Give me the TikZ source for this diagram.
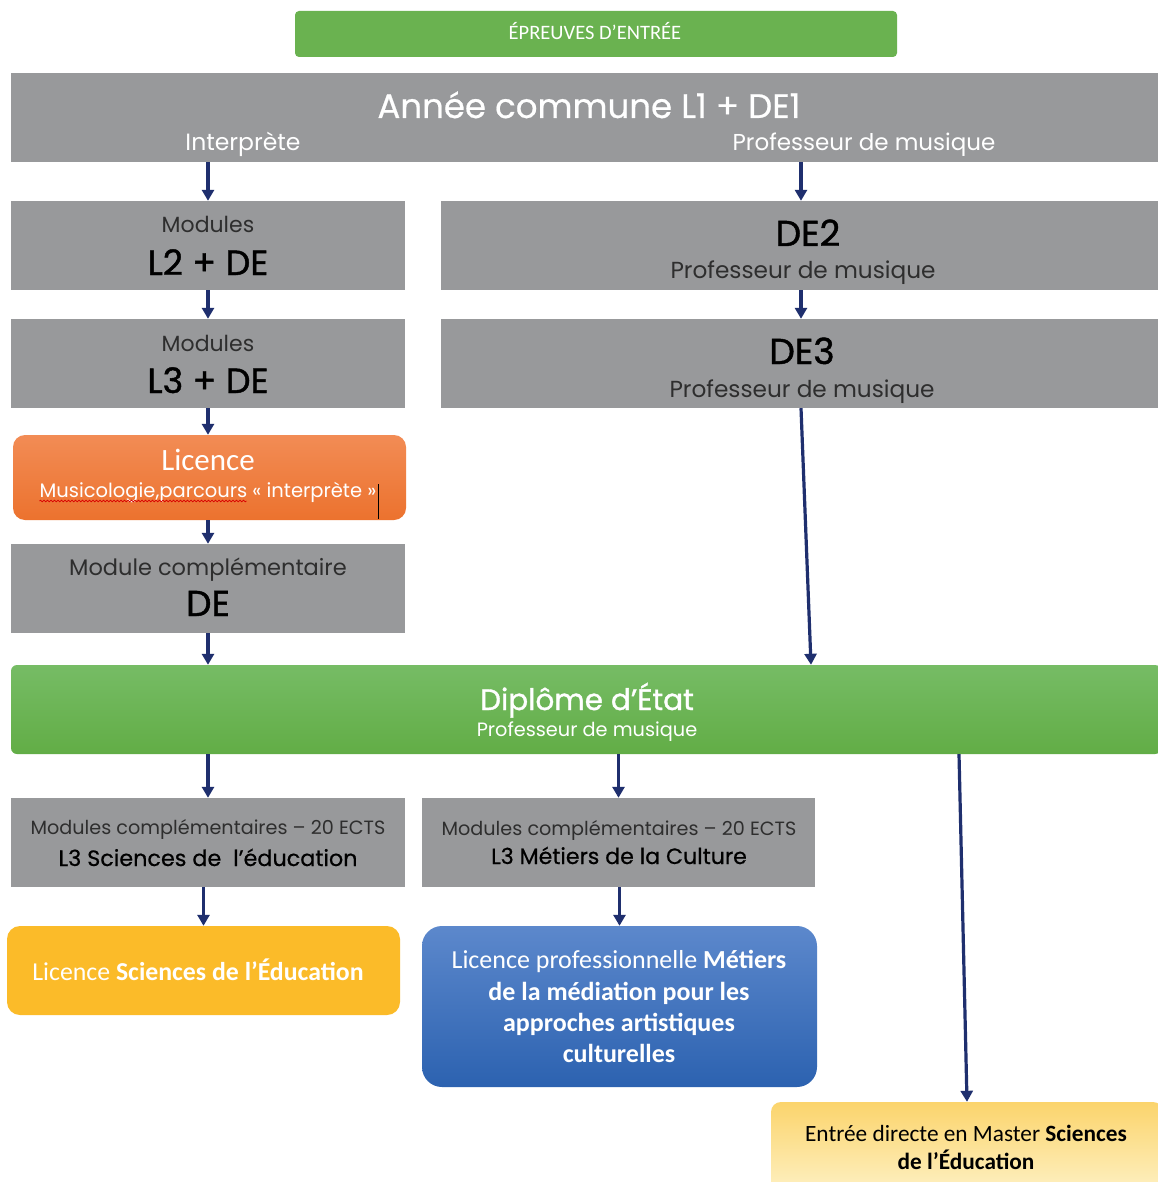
\documentclass[tikz,border=0pt]{standalone}
\usepackage{fontspec}
\setmainfont{Poppins}
\newfontfamily\calib{Carlito}
\newfontfamily\popmed[FakeBold=1.2]{Poppins}
\newfontfamily\popsemi[FakeBold=0.6]{Poppins}
\usetikzlibrary{arrows.meta,decorations.pathmorphing,calc}
\definecolor{greentop}{HTML}{6AB250}
\definecolor{greyc}{HTML}{98999B}
\definecolor{navy}{HTML}{1F2F6E}
\definecolor{orangeT}{HTML}{F28C55}
\definecolor{orangeB}{HTML}{EC722E}
\definecolor{dipT}{HTML}{76BC65}
\definecolor{dipB}{HTML}{62AD46}
\definecolor{yellowc}{HTML}{FBBB29}
\definecolor{blueT}{HTML}{5C88CC}
\definecolor{blueB}{HTML}{2C62B0}
\definecolor{paleT}{HTML}{FBD46C}
\definecolor{paleB}{HTML}{FEF1C4}
\definecolor{darkt}{HTML}{2E2E2E}
\newcommand{\fs}[1]{\fontsize{#1pt}{#1pt}\selectfont}
\begin{document}
\begin{tikzpicture}[x=1pt,y=-1pt,
  box/.style={draw=none,inner sep=0pt,minimum width=#1},
  greybox/.style={box=#1,fill=greyc,minimum height=89pt},
  txt/.style={anchor=base,inner sep=0pt},
  arr/.style={draw=navy,line width=3.2pt,-{Triangle[width=12pt,length=11pt]}},
  ]
\useasboundingbox (0,0) rectangle (1157,1182);
\fill[white] (0,0) rectangle (1157,1182);

% boxes
\node[box=602pt,fill=greentop,minimum height=46pt,rounded corners=4pt] (epr) at (596,34) {};
\node[greybox=1150pt] (top) at (586,117.5) {};
\node[greybox=394pt] (l2) at (208,245.5) {};
\node[greybox=720pt] (de2) at (801,245.5) {};
\node[greybox=394pt] (l3) at (208,363.5) {};
\node[greybox=720pt] (de3) at (801,363.5) {};
\node[box=393pt,minimum height=85pt,rounded corners=12pt,top color=orangeT,bottom color=orangeB] (lic) at (209.5,477.5) {};
\node[greybox=394pt] (mc) at (208,588.5) {};
\node[box=1150pt,minimum height=89pt,rounded corners=6pt,top color=dipT,bottom color=dipB] (dip) at (586,709.5) {};
\node[greybox=394pt] (l3s) at (208,842.5) {};
\node[greybox=393pt] (l3m) at (618.5,842.5) {};
\node[box=393pt,minimum height=89pt,rounded corners=13pt,fill=yellowc] (lse) at (203.5,970.5) {};
\node[box=395pt,minimum height=161pt,rounded corners=20pt,top color=blueT,bottom color=blueB] (lpro) at (619.5,1006.5) {};
\node[box=392pt,minimum height=92pt,rounded corners=10pt,top color=paleT,bottom color=paleB] (mast) at (967,1148) {};

% texts
\node[txt,text=white,font=\calib\fs{20.5}] (eprT) at (595,40) {ÉPREUVES D’ENTRÉE};
\node[txt,text=white,font=\popsemi\fs{34}] (topT) at (589,118) {Année commune L1 + DE1};
\node[txt,text=white,font=\fs{23.5}] (topI) at (243,151) {Interprète};
\node[txt,text=white,font=\fs{23}] (topP) at (864,151) {Professeur de musique};

\node[txt,text=darkt,font=\fs{22}] (l2a) at (208,233) {Modules};
\node[txt,text=black,font=\popmed\fs{35}] (l2b) at (208,275) {L2 + DE};
\node[txt,text=black,font=\popmed\fs{36}] (de2a) at (808,246) {DE2};
\node[txt,text=darkt,font=\fs{23.2}] (de2b) at (803,278) {Professeur de musique};

\node[txt,text=darkt,font=\fs{22}] (l3a) at (208,351) {Modules};
\node[txt,text=black,font=\popmed\fs{35}] (l3b) at (208,393) {L3 + DE};
\node[txt,text=black,font=\popmed\fs{36}] (de3a) at (802,364) {DE3};
\node[txt,text=darkt,font=\fs{23.2}] (de3b) at (802,397) {Professeur de musique};

\node[txt,text=white,font=\calib\fs{31}] (licA) at (208,470) {Licence};
\node[txt,text=white,font=\fs{19.5}] (licB) at (208,497) {Musicologie,parcours « interprète »};
\draw[red!85!black,line width=0.7pt,decorate,decoration={snake,amplitude=0.8pt,segment length=3.5pt}]
  ([yshift=-4pt]licB.base west) -- ++(207,0);
\draw[black,line width=1pt] (378,484) -- (378,519);

\node[txt,text=darkt,font=\fs{22.5}] (mcA) at (208,575) {Module complémentaire};
\node[txt,text=black,font=\popmed\fs{36}] (mcB) at (208,616) {DE};

\node[txt,text=white,font=\popmed\fs{29.5}] (dipA) at (587,710) {Diplôme d’État};
\node[txt,text=white,font=\fs{19.3}] (dipB) at (587,736) {Professeur de musique};

\node[txt,text=darkt,font=\fs{19.2}] (l3sA) at (208,834) {Modules complémentaires – 20 ECTS};
\node[txt,text=black,font=\popsemi\fs{22.3}] (l3sB) at (208,866) {L3 Sciences de \ l’éducation};
\node[txt,text=darkt,font=\fs{19.2}] (l3mA) at (619,835) {Modules complémentaires – 20 ECTS};
\node[txt,text=black,font=\popsemi\fs{22.1}] (l3mB) at (619,864) {L3 Métiers de la Culture};

\node[txt,text=white,font=\calib\fs{25.8}] (lseT) at (198,980) {Licence \textbf{Sciences de l’Éducation}};

\node[txt,text=white,font=\calib\fs{26}] (lp1) at (619,968) {Licence professionnelle \textbf{Métiers}};
\node[txt,text=white,font=\calib\bfseries\fs{26}] (lp2) at (619,1000) {de la médiation pour les};
\node[txt,text=white,font=\calib\bfseries\fs{26}] (lp3) at (619,1031) {approches artistiques};
\node[txt,text=white,font=\calib\bfseries\fs{26}] (lp4) at (619,1062) {culturelles};

\node[txt,text=black,font=\calib\fs{23.3}] (ma1) at (966,1141) {Entrée directe en Master \textbf{Sciences}};
\node[txt,text=black,font=\calib\bfseries\fs{23.3}] (ma2) at (966,1169) {de l’Éducation};

% arrows
\draw[arr] (top.south -| l2.north) -- (l2.north);
\draw[arr] (top.south -| de2.north) -- (de2.north);
\draw[arr] (l2) -- (l3);
\draw[arr] (de2) -- (de3);
\draw[arr] (l3.south) -- (l3.south |- lic.north);
\draw[arr] (lic.south -| mc.north) -- (mc.north);
\draw[arr] (mc) -- (mc.south |- dip.north);
\draw[arr] (de3.south) -- ([xshift=10pt]de3.south |- dip.north);
\draw[arr] (dip.south -| l3s.north) -- (l3s.north);
\draw[arr] (dip.south -| l3m.north) -- (l3m.north);
\draw[arr] (l3s.south -| lse.north) -- (lse.north);
\draw[arr] (l3m.south -| lpro.north) -- (lpro.north);
\draw[arr] ([xshift=-8pt]mast.north |- dip.south) -- (mast.north);
\end{tikzpicture}
\end{document}
